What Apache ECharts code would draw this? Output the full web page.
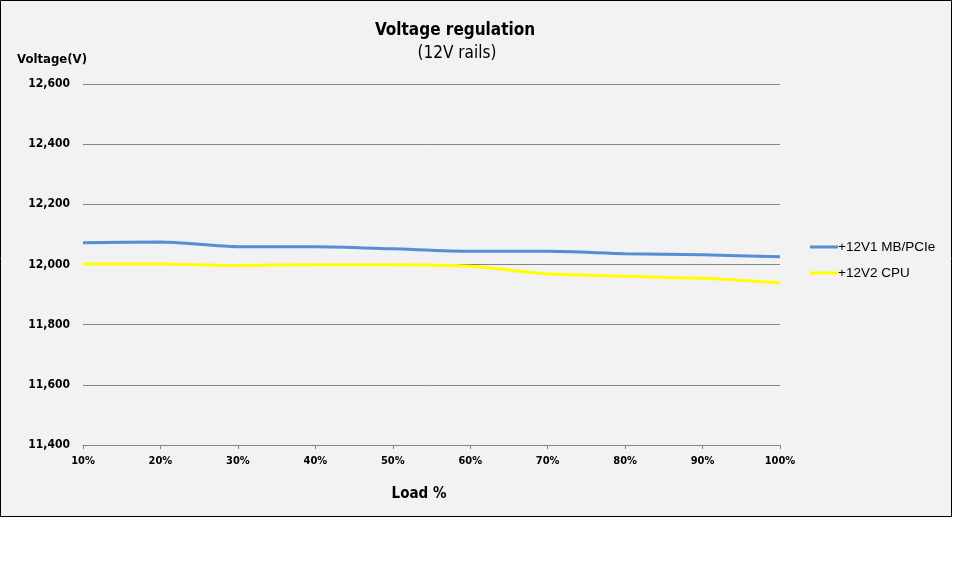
<!DOCTYPE html>
<html><head><meta charset="utf-8">
<script src="https://cdn.jsdelivr.net/npm/echarts@6/dist/echarts.min.js"></script>
<style>html,body{margin:0;padding:0;background:#fff}#c{width:953px;height:572px}</style>
</head><body><div id="c"></div>
<script>
const categories = ['10%','20%','30%','40%','50%','60%','70%','80%','90%','100%'];
const rail1 = [12072,12075,12059,12059,12052,12044,12044,12036,12032,12026];
const rail2 = [12002,12002,11997,11999,11999,11994,11969,11961,11954,11939];
const seriesNames = ['+12V1 MB/PCIe','+12V2 CPU'];
const yMin = 11400, yMax = 12600, yStep = 200;

const narrow = '"DejaVu Sans Condensed","Liberation Sans Narrow",sans-serif';
const chart = echarts.init(document.getElementById('c'));
chart.setOption({
  backgroundColor: '#ffffff',
  animation: false,
  graphic: [{
    type: 'rect', z: -10, silent: true,
    shape: { x: 0.5, y: 0.5, width: 951, height: 516 },
    style: { fill: '#f2f2f2', stroke: '#000', lineWidth: 1 }
  }],
  title: [{
    text: 'Voltage regulation', left: 450, top: 17, textAlign: 'center',
    textStyle: { fontFamily: narrow, fontWeight: 'bold', fontSize: 17, color: '#000' }
  }, {
    text: '(12V rails)', left: 452, top: 40, textAlign: 'center',
    textStyle: { fontFamily: narrow, fontWeight: 'normal', fontSize: 17, color: '#000' }
  }, {
    text: 'Load %', left: 414, top: 482, textAlign: 'center',
    textStyle: { fontFamily: narrow, fontWeight: 'bold', fontSize: 15, color: '#000' }
  }],
  legend: {
    orient: 'vertical', left: 805, top: 235, itemGap: 12,
    itemWidth: 28, itemHeight: 3, icon: 'rect',
    textStyle: { fontFamily: 'Arial, "Liberation Sans", sans-serif', fontSize: 13.5, color: '#000', padding: [0,0,0,-5] },
    data: seriesNames
  },
  grid: { left: 83, right: 173, top: 84, bottom: 127 },
  xAxis: {
    type: 'category', data: categories, boundaryGap: false,
    axisLine: { lineStyle: { color: '#868686', width: 1 } },
    axisTick: { show: true, alignWithLabel: true, length: 4, lineStyle: { color: '#868686' } },
    axisLabel: { fontFamily: narrow, fontWeight: 'bold', fontSize: 11, color: '#000', margin: 11 }
  },
  yAxis: {
    type: 'value', min: yMin, max: yMax, interval: yStep,
    name: 'Voltage(V)', nameLocation: 'end', nameGap: 18,
    nameTextStyle: { fontFamily: narrow, fontWeight: 'bold', fontSize: 13, color: '#000', align: 'right', padding: [0, -4, 0, 0] },
    axisLine: { show: false }, axisTick: { show: false },
    splitLine: { lineStyle: { color: '#868686', width: 1 } },
    axisLabel: {
      fontFamily: narrow, fontWeight: 'bold', fontSize: 12, color: '#000', margin: 13,
      formatter: v => v.toLocaleString('en-US')
    }
  },
  series: [{
    name: seriesNames[0], type: 'line', data: rail1, smooth: 0.25, symbol: 'none',
    lineStyle: { width: 3, color: '#558ed5' }, itemStyle: { color: '#558ed5' }
  }, {
    name: seriesNames[1], type: 'line', data: rail2, smooth: 0.25, symbol: 'none',
    lineStyle: { width: 3, color: '#ffff00' }, itemStyle: { color: '#ffff00' }
  }]
});
</script></body></html>
